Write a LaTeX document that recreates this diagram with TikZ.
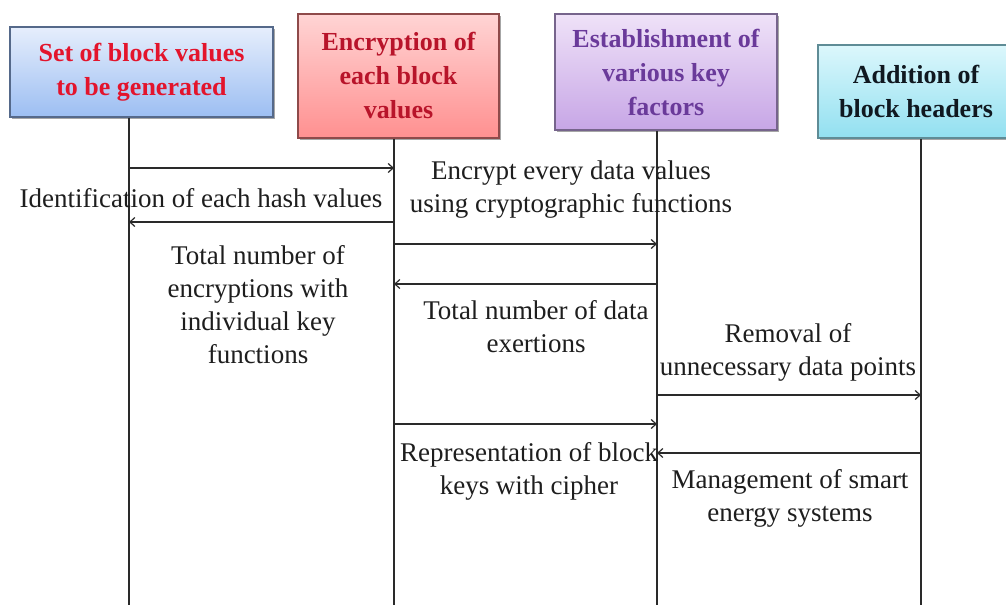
\documentclass[tikz,border=0pt]{standalone}
\usepackage{fontspec}
\setmainfont{Liberation Serif}
\usetikzlibrary{shadows,arrows.meta}
\definecolor{bAtop}{HTML}{E6EEFC}\definecolor{bAbot}{HTML}{9CBEF2}\definecolor{bAdraw}{HTML}{55698A}\definecolor{bAtext}{HTML}{E3142C}
\definecolor{bBtop}{HTML}{FFD4D4}\definecolor{bBbot}{HTML}{FF9090}\definecolor{bBdraw}{HTML}{8E4A4A}\definecolor{bBtext}{HTML}{B8142A}
\definecolor{bCtop}{HTML}{EFE2F8}\definecolor{bCbot}{HTML}{C7A6E6}\definecolor{bCdraw}{HTML}{76648C}\definecolor{bCtext}{HTML}{6A3A9A}
\definecolor{bDtop}{HTML}{DCF7FC}\definecolor{bDbot}{HTML}{92E0F0}\definecolor{bDdraw}{HTML}{5F8C96}\definecolor{bDtext}{HTML}{101820}
\definecolor{linec}{HTML}{2A2A2A}
\definecolor{txtc}{HTML}{1E1E1E}
\begin{document}
\begin{tikzpicture}[x=1pt,y=-1pt,
  hdr/.style n args={3}{draw=#1, top color=#2, bottom color=#3, line width=1.1pt,
    drop shadow={shadow xshift=2pt,shadow yshift=-2pt,opacity=0.35,fill=black},
    align=center, inner sep=0pt, font=\fontsize{26}{34}\selectfont\bfseries},
  lbl/.style={align=center, inner sep=0pt, text=txtc, font=\fontsize{27}{33}\selectfont},
  life/.style={draw=linec, line width=1.2pt},
  msg/.style={draw=linec, line width=1.2pt, -{Straight Barb[length=5pt,width=9pt]}}
]
\useasboundingbox (0,0) rectangle (1006,605);
\fill[white] (0,0) rectangle (1006,605);
% headers
\node[hdr={bAdraw}{bAtop}{bAbot}, minimum width=263pt, minimum height=90pt, text=bAtext] (b1) at (141.5,72) {Set of block values\\to be generated};
\node[hdr={bBdraw}{bBtop}{bBbot}, minimum width=201pt, minimum height=124pt, text=bBtext] (b2) at (398.5,76) {Encryption of\\each block\\values};
\node[hdr={bCdraw}{bCtop}{bCbot}, minimum width=222pt, minimum height=116pt, text=bCtext] (b3) at (666,72) {Establishment of\\various key\\factors};
\node[hdr={bDdraw}{bDtop}{bDbot}, minimum width=196pt, minimum height=93pt, text=bDtext] (b4) at (916,91.5) {Addition of\\block headers};
% lifeline ends
\coordinate (L1) at (129,605);
\coordinate (L2) at (394,605);
\coordinate (L3) at (657,605);
\coordinate (L4) at (921,605);
\draw[life] (b1.south -| L1) -- (L1);
\draw[life] (b2.south -| L2) -- (L2);
\draw[life] (b3.south -| L3) -- (L3);
\draw[life] (b4.south -| L4) -- (L4);
% messages
\draw[msg] (L1 |- 0,168) -- (L2 |- 0,168);
\draw[msg] (L2 |- 0,222) -- (L1 |- 0,222);
\draw[msg] (L2 |- 0,244) -- (L3 |- 0,244);
\draw[msg] (L3 |- 0,284) -- (L2 |- 0,284);
\draw[msg] (L3 |- 0,395) -- (L4 |- 0,395);
\draw[msg] (L2 |- 0,424) -- (L3 |- 0,424);
\draw[msg] (L4 |- 0,453) -- (L3 |- 0,453);
% labels
\node[lbl] (t1) at (201,198) {Identification of each hash values};
\node[lbl] (t2) at (571,190) {Encrypt every data values\\using cryptographic functions};
\node[lbl] (t3) at (258,305) {Total number of\\encryptions with\\individual key\\functions};
\node[lbl] (t4) at (536,327) {Total number of data\\exertions};
\node[lbl] (t5) at (788,352) {Removal of\\unnecessary data points};
\node[lbl] (t6) at (529,471) {Representation of block\\keys with cipher};
\node[lbl] (t7) at (790,498) {Management of smart\\energy systems};
\end{tikzpicture}
\end{document}
